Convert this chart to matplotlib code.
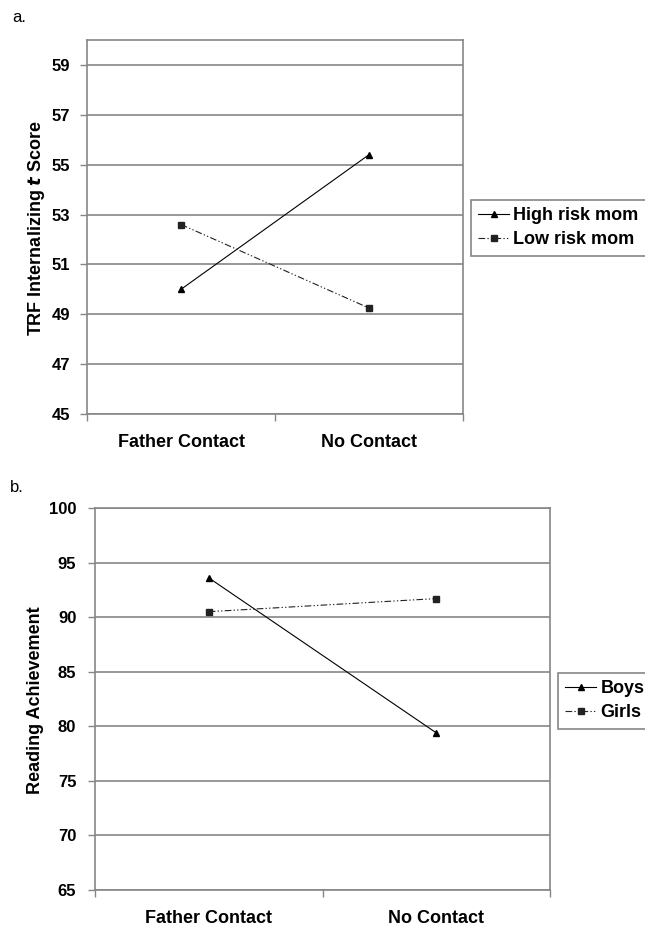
import matplotlib
matplotlib.use("Agg")
import matplotlib.pyplot as plt

plt.rcParams['font.family'] = ['Liberation Sans', 'DejaVu Sans']

categories = ["Father Contact", "No Contact"]

# Panel a
a_high = [50.0, 55.4]
a_low = [52.6, 49.25]
a_labels = ["High risk mom", "Low risk mom"]
a_yticks = [45, 47, 49, 51, 53, 55, 57, 59]

# Panel b
b_boys = [93.6, 79.4]
b_girls = [90.5, 91.7]
b_labels = ["Boys", "Girls"]
b_yticks = [65, 70, 75, 80, 85, 90, 95, 100]

W, H = 645, 926
fig = plt.figure(figsize=(W / 100, H / 100), dpi=100)

GRID = '#868686'
DASHDOTDOT = (0, (6, 2, 1.2, 2, 1.2, 2))


def box(l, t, r, b):
    return [l / W, 1 - b / H, (r - l) / W, (b - t) / H]


def setup(ax, ylim, yticks, ypad):
    xs = [0.5, 1.5]
    ax.set_xlim(0, 2)
    ax.set_ylim(*ylim)
    ax.set_yticks(yticks)
    ax.set_yticklabels([str(v) for v in yticks])
    for v in yticks:
        ax.axhline(v, color=GRID, lw=1.2, zorder=1)
    ax.set_xticks([0, 1, 2])
    ax.set_xticklabels([])
    ax.set_xticks(xs, minor=True)
    ax.set_xticklabels(categories, minor=True)
    ax.tick_params(axis='x', which='major', length=5, width=1, color=GRID, direction='out')
    ax.tick_params(axis='x', which='minor', length=0, pad=14.5, labelsize=13)
    ax.tick_params(axis='y', length=5, width=1, color=GRID, direction='out', labelsize=12, pad=ypad)
    for lab in ax.get_xticklabels(minor=True) + ax.get_yticklabels():
        lab.set_fontweight('bold')
    for s in ax.spines.values():
        s.set_color(GRID)
        s.set_linewidth(1.2)
    return xs


def legend(ax, x, y):
    lg = ax.legend(loc='upper left', bbox_to_anchor=(x / W, 1 - y / H),
                   bbox_transform=fig.transFigure, borderaxespad=0, fancybox=False,
                   edgecolor=GRID, framealpha=1, handlelength=1.7,
                   handletextpad=0.25, labelspacing=0.4, borderpad=0.4,
                   prop={'weight': 'bold', 'size': 13})
    lg.get_frame().set_linewidth(1.2)
    return lg


# ---------------- Panel a ----------------
axa = fig.add_axes(box(87, 40, 463, 414))
xs = setup(axa, (45, 60), a_yticks, 7)
axa.plot(xs, a_high, color='black', lw=0.8, marker='^', ms=4.8, label=a_labels[0], zorder=3)
axa.plot(xs, a_low, color='#222222', lw=0.8, ls=DASHDOTDOT, marker='s', ms=4.5, label=a_labels[1], zorder=3)
axa.set_ylabel('TRF Internalizing $\\boldsymbol{t}$ Score', fontsize=13, fontweight='bold')
axa.yaxis.set_label_coords(47 / W, 1 - 228 / H, transform=fig.transFigure)
legend(axa, 471, 200)
fig.text(12 / W, 1 - 17 / H, 'a.', fontsize=12, va='center', ha='left')

# ---------------- Panel b ----------------
axb = fig.add_axes(box(95, 508, 550, 890))
xs = setup(axb, (65, 100), b_yticks, 8.5)
axb.plot(xs, b_boys, color='black', lw=0.8, marker='^', ms=4.8, label=b_labels[0], zorder=3)
axb.plot(xs, b_girls, color='#222222', lw=0.8, ls=DASHDOTDOT, marker='s', ms=4.5, label=b_labels[1], zorder=3)
axb.set_ylabel('Reading Achievement', fontsize=13, fontweight='bold')
axb.yaxis.set_label_coords(44 / W, 1 - 700 / H, transform=fig.transFigure)
legend(axb, 558, 673)
fig.text(10 / W, 1 - 488 / H, 'b.', fontsize=12, va='center', ha='left')

fig.savefig('out.png', dpi=100)
